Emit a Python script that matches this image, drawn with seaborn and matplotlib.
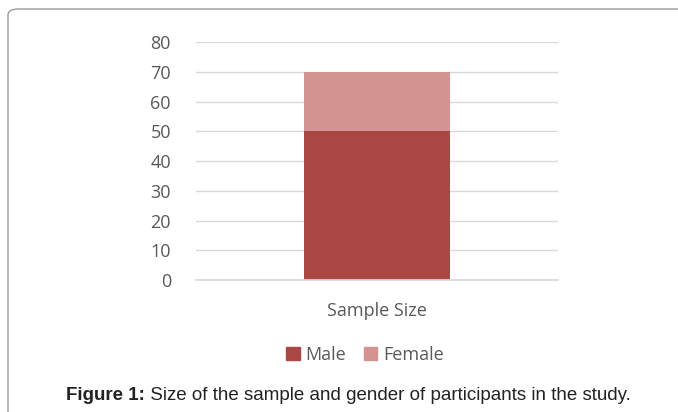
import matplotlib
matplotlib.use("Agg")
import matplotlib.pyplot as plt
import seaborn as sns
import pandas as pd
from matplotlib.patches import Patch, FancyBboxPatch

categories = ["Sample Size"]
male = [50]
female = [20]
yticks = [0, 10, 20, 30, 40, 50, 60, 70, 80]
caption_bold = "Figure 1:"
caption_text = " Size of the sample and gender of participants in the study."

male_color = "#A94745"
female_color = "#D39391"
text_gray = "#595959"

sns.set_theme(style="white")
plt.rcParams["font.family"] = ["Open Sans", "DejaVu Sans"]

df = pd.DataFrame({"category": categories, "Male": male, "Female": female})

fig = plt.figure(figsize=(6.78, 4.12), dpi=100)
ax = fig.add_axes([0.289, 0.320, 0.534, 0.578])

sns.barplot(data=df, x="category", y="Male", color=male_color, width=0.405,
            saturation=1, ax=ax, linewidth=0)
sns.barplot(data=df, x="category", y="Female", color=female_color, width=0.405,
            saturation=1, ax=ax, linewidth=0, bottom=df["Male"])

ax.set_ylim(0, 80)
ax.set_yticks(yticks)
ax.set_xlim(-0.5, 0.5)
ax.yaxis.grid(True, color="#D9D9D9", linewidth=1)
ax.set_axisbelow(True)
for side in ["top", "right", "left"]:
    ax.spines[side].set_visible(False)
ax.spines["bottom"].set_color("#D9D9D9")
ax.set_xlabel("")
ax.set_ylabel("")
ax.tick_params(axis="y", length=0, labelsize=13, colors=text_gray, pad=18)
ax.tick_params(axis="x", length=0, labelsize=13, colors=text_gray, pad=16)

handles = [Patch(color=male_color, label="Male"), Patch(color=female_color, label="Female")]
fig.legend(handles=handles, loc="center", bbox_to_anchor=(0.538, 0.138), ncol=2,
           frameon=False, fontsize=13, labelcolor=text_gray, handlelength=0.75,
           handleheight=0.75, handletextpad=0.3, columnspacing=1.0)

# caption: bold lead-in followed by regular text
cap_y = 0.040
t1 = fig.text(66 / 678, cap_y, caption_bold, ha="left", va="center", fontsize=13.5,
              fontweight="bold", family="Liberation Sans", color="#222222")
fig.canvas.draw()
bb = t1.get_window_extent()
fig.text(bb.x1 / fig.bbox.width, cap_y, caption_text, ha="left", va="center",
         fontsize=13.5, family="Liberation Sans", color="#222222")

# page border (top and left edges visible)
border = FancyBboxPatch((8 / 678, -0.2), 1.2, 1.2 - 9 / 412,
                        boxstyle="round,pad=0,rounding_size=0.015",
                        transform=fig.transFigure, fill=False,
                        edgecolor="#9A9A9A", linewidth=1, clip_on=False)
fig.patches.append(border)

fig.savefig("out.png", dpi=100)
